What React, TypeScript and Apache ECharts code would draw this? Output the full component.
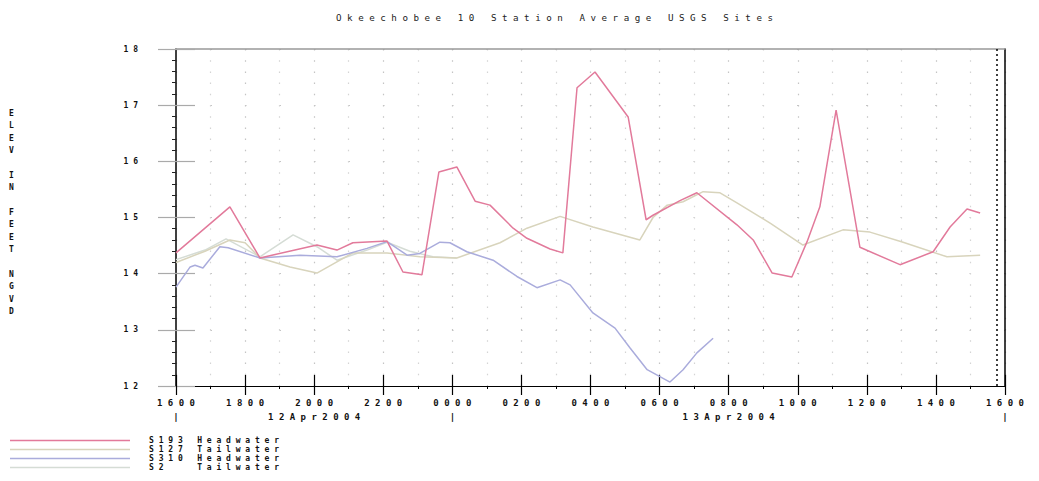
import React, { useEffect, useRef } from "react";
import * as echarts from "echarts";

// hours after 1600 on 12Apr2004
const hoursS193 = [0, 1.56, 2.43, 4.08, 4.66, 5.12, 6.11, 6.57, 7.12, 7.61, 8.13, 8.66, 9.09, 9.76, 10.16, 10.83, 11.2, 11.61, 12.13, 13.09, 13.61, 13.81, 14.59, 15.08, 16.24, 16.71, 17.26, 17.83, 18.27, 18.64, 19.11, 19.8, 20.96, 21.92, 22.41, 22.9, 23.28];
const valuesS193 = [14.37, 15.19, 14.28, 14.51, 14.42, 14.55, 14.58, 14.03, 13.98, 15.81, 15.9, 15.29, 15.22, 14.81, 14.63, 14.44, 14.37, 17.31, 17.59, 16.79, 14.96, 15.04, 15.3, 15.44, 14.87, 14.6, 14.01, 13.94, 14.57, 15.19, 16.91, 14.47, 14.16, 14.39, 14.83, 15.15, 15.08];

const hoursS127 = [0, 0.84, 1.56, 2.0, 2.43, 3.3, 4.08, 5.12, 6.11, 7.06, 8.13, 9.38, 10.16, 11.12, 12.07, 13.43, 13.81, 14.22, 14.68, 15.26, 15.75, 16.24, 17.2, 18.15, 19.31, 20.09, 21.05, 22.32, 23.28];
const valuesS127 = [14.2, 14.4, 14.6, 14.55, 14.28, 14.12, 14.01, 14.37, 14.37, 14.3, 14.28, 14.55, 14.81, 15.02, 14.83, 14.6, 15.0, 15.22, 15.28, 15.46, 15.44, 15.26, 14.9, 14.51, 14.78, 14.74, 14.56, 14.3, 14.33];

const hoursS310 = [0, 0.41, 0.55, 0.78, 1.27, 1.51, 2.43, 3.59, 4.66, 5.53, 6.11, 6.69, 7.06, 7.64, 7.93, 8.42, 9.18, 9.87, 10.45, 11.12, 11.41, 12.07, 12.71, 13.14, 13.64, 14.3, 14.68, 15.08, 15.55];
const valuesS310 = [13.76, 14.12, 14.15, 14.1, 14.48, 14.46, 14.28, 14.33, 14.3, 14.45, 14.57, 14.33, 14.36, 14.56, 14.55, 14.39, 14.24, 13.95, 13.75, 13.89, 13.8, 13.3, 13.03, 12.68, 12.29, 12.07, 12.29, 12.59, 12.85];

const hoursS2 = [0, 0.84, 1.45, 2.43, 3.39, 4.08, 4.66, 5.53, 6.11, 6.77, 7.44, 8.13];
const valuesS2 = [14.25, 14.42, 14.62, 14.3, 14.69, 14.48, 14.24, 14.42, 14.56, 14.4, 14.3, 14.28];

const seriesNames = ["S193 Headwater", "S127 Tailwater", "S310 Headwater", "S2 Tailwater"];
const legendTexts = ["S193 Headwater", "S127 Tailwater", "S310 Headwater", "S2   Tailwater"];
const seriesColors = ["#e27a9b", "#d8d4bc", "#aaacdc", "#d5dcd5"];

const titleText = "Okeechobee 10 Station Average USGS Sites";
const yAxisTitle = "ELEV IN FEET NGVD";
const yMin = 12;
const yMax = 18;
const xMax = 24;
const startHour = 16;
const dateLabels: Record<number, string> = { 0: "|", 4: "12Apr2004", 8: "|", 16: "13Apr2004", 24: "|" };
const nowMarkerHour = 23.77;

const sp = (s: string) => s.split("").join(" ");
const zip = (h: number[], v: number[]) => h.map((x, i) => [x, v[i]]);

const MONO = "DejaVu Sans Mono";

export default function App() {
  const ref = useRef<HTMLDivElement>(null);
  useEffect(() => {
    document.body.style.margin = "0";
    const chart = echarts.init(ref.current!, null, { renderer: "svg" });
    const dataSets = [
      zip(hoursS193, valuesS193),
      zip(hoursS127, valuesS127),
      zip(hoursS310, valuesS310),
      zip(hoursS2, valuesS2),
    ];
    const order = [3, 1, 2, 0];
    const series: any[] = order.map((i) => ({
      name: seriesNames[i],
      type: "line",
      data: dataSets[i],
      showSymbol: false,
      symbol: "none",
      color: seriesColors[i],
      lineStyle: { width: 1.5, color: seriesColors[i] },
      z: 2 + (i === 0 ? 5 : 0),
      ...(i === 0
        ? {
            markLine: {
              silent: true,
              symbol: "none",
              label: { show: false },
              lineStyle: { type: [2, 3], color: "#000", width: 1.5 },
              data: [{ xAxis: nowMarkerHour }],
            },
          }
        : {}),
    }));

    const labelFmt = (v: number) => {
      if (Math.round(v) % 2 !== 0) return "";
      const hh = (startHour + v) % 24;
      const top = sp(String(hh).padStart(2, "0") + "00");
      const d = dateLabels[v];
      return d ? top + "\n" + (d === "|" ? "|" : sp(d)) : top;
    };

    chart.setOption({
      animation: false,
      textStyle: { fontFamily: MONO },
      grid: { left: 176, right: 34, top: 49, bottom: 95, containLabel: false },
      legend: {
        data: seriesNames,
        orient: "vertical",
        left: 5,
        top: 431,
        itemWidth: 120,
        itemHeight: 1.5,
        itemGap: 0,
        icon: "rect",
        selectedMode: false,
        formatter: (n: string) => sp(legendTexts[seriesNames.indexOf(n)]),
        textStyle: { fontFamily: MONO, fontSize: 8, fontWeight: "bold", color: "#111", lineHeight: 9, padding: [0, 0, 0, 14] },
      },
      graphic: [
        {
          type: "text",
          left: 336,
          top: 13,
          style: { text: sp(titleText), font: `9.2px "${MONO}"`, fill: "#222" },
        },
        {
          type: "text",
          left: 9,
          top: 107,
          style: {
            text: yAxisTitle.split("").join("\n"),
            font: `bold 8px "${MONO}"`,
            fill: "#111",
            lineHeight: 12.4,
          },
        },
      ],
      xAxis: [
        {
          type: "value",
          min: 0,
          max: xMax,
          interval: 2,
          position: "bottom",
          axisLine: { onZero: false, lineStyle: { color: "#000", width: 1 } },
          axisTick: { show: true, inside: false, length: 9, lineStyle: { color: "#000", width: 1.2 } },
          minorTick: { show: true, splitNumber: 2, length: 3, lineStyle: { color: "#000" } },
          splitLine: { show: true, lineStyle: { color: "#c4c4c4", type: [1.5, 9.7], width: 1.2 } },
          minorSplitLine: { show: true, lineStyle: { color: "#d4d4d4", type: [1.5, 9.7], width: 1.2 } },
          axisLabel: {
            show: true,
            margin: 10,
            showMaxLabel: true,
            showMinLabel: true,
            formatter: labelFmt,
            fontFamily: MONO,
            fontSize: 9,
            fontWeight: "bold",
            color: "#111",
            lineHeight: 14,
          },
        },
        {
          type: "value",
          min: 0,
          max: xMax,
          interval: 2,
          position: "bottom",
          axisLine: { show: false, onZero: false },
          axisTick: { show: true, inside: true, length: 11, lineStyle: { color: "#000", width: 1.2 } },
          axisLabel: { show: false },
          splitLine: { show: false },
        },
        {
          type: "value",
          min: 0,
          max: xMax,
          position: "top",
          axisLine: { show: true, onZero: false, lineStyle: { color: "#999", width: 1.5 } },
          axisTick: { show: false },
          axisLabel: { show: false },
          splitLine: { show: false },
        },
      ],
      yAxis: [
        {
          type: "value",
          min: yMin,
          max: yMax,
          interval: 1,
          position: "left",
          axisLine: { onZero: false, lineStyle: { color: "#000", width: 1.5 } },
          axisTick: { show: true, inside: false, length: 18, lineStyle: { color: "#aaa", width: 1.2 } },
          minorTick: { show: true, splitNumber: 5, length: 4, lineStyle: { color: "#222" } },
          splitLine: { show: true, lineStyle: { color: "#c4c4c4", type: [1.5, 33], width: 1.2 } },
          axisLabel: {
            margin: 38,
            formatter: (v: number) => sp(String(v)),
            fontFamily: MONO,
            fontSize: 8,
            fontWeight: "bold",
            color: "#111",
          },
        },
        {
          type: "value",
          min: yMin,
          max: yMax,
          interval: 1,
          position: "left",
          axisLine: { show: false, onZero: false },
          axisTick: { show: true, inside: true, length: 19, lineStyle: { color: "#aaa", width: 1.2 } },
          axisLabel: { show: false },
          splitLine: { show: false },
        },
        {
          type: "value",
          min: yMin,
          max: yMax,
          position: "right",
          axisLine: { show: true, onZero: false, lineStyle: { color: "#000", width: 1.5 } },
          axisTick: { show: false },
          axisLabel: { show: false },
          splitLine: { show: false },
        },
      ],
      series,
    });
    return () => chart.dispose();
  }, []);
  return <div ref={ref} style={{ width: 1039, height: 481 }} />;
}
